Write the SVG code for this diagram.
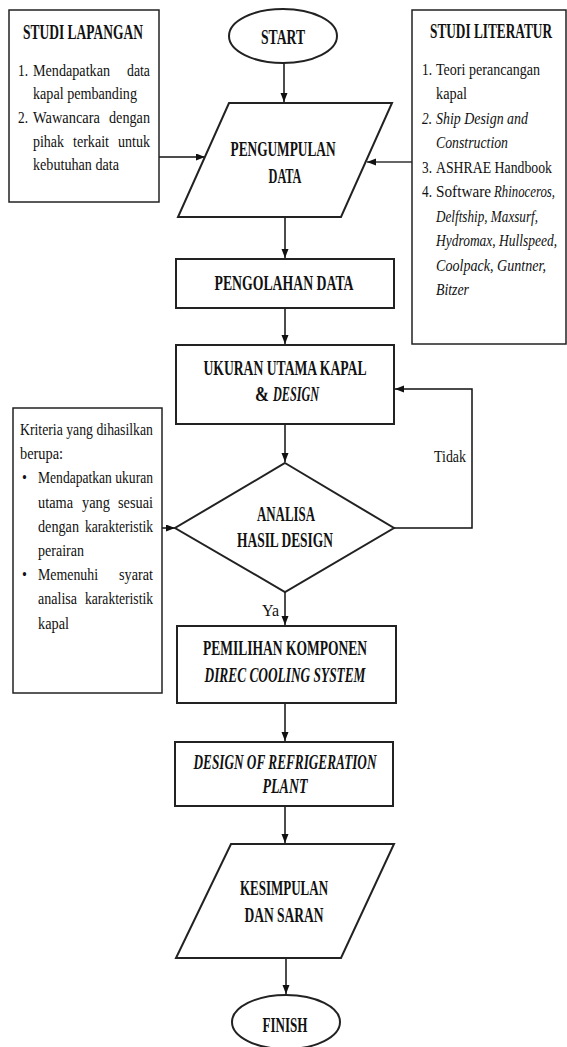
<svg xmlns="http://www.w3.org/2000/svg" width="567" height="1047" viewBox="0 0 567 1047">
<defs>
<marker id="ah" markerUnits="userSpaceOnUse" markerWidth="10" markerHeight="8" refX="9" refY="3.5" orient="auto">
<path d="M0,0 L9,3.5 L0,7 z" fill="#111"/>
</marker>
<style>
.shape{fill:#fff;stroke:#222;stroke-width:2}
.box{fill:#fff;stroke:#222;stroke-width:1.5}
.t{font-family:"Liberation Serif","Times New Roman",serif;font-weight:bold;font-size:22px;fill:#111;text-anchor:middle}
.h{font-family:"Liberation Serif","Times New Roman",serif;font-weight:bold;font-size:20px;fill:#111;text-anchor:middle}
.b{font-family:"Liberation Serif","Times New Roman",serif;font-size:17.5px;fill:#111}
.e{text-anchor:end}
.i{font-style:italic}
.c{fill:none;stroke:#111;stroke-width:1.5}
</style>
</defs>

<g id="connectors">
<path class="c" d="M284,63 V102" marker-end="url(#ah)"/>
<path class="c" d="M159,157 H205" marker-end="url(#ah)"/>
<path d="M412,162 H367" fill="none" stroke="#666" stroke-width="2.2" marker-end="url(#ah)"/>
<path class="c" d="M285,217 V258" marker-end="url(#ah)"/>
<path class="c" d="M285,308 V344" marker-end="url(#ah)"/>
<path class="c" d="M285,424 V462" marker-end="url(#ah)"/>
<path class="c" d="M394,528 H472 V389 H395" marker-end="url(#ah)"/>
<path class="c" d="M162,528 H175" marker-end="url(#ah)"/>
<path class="c" d="M285,592 V625" marker-end="url(#ah)"/>
<path class="c" d="M285,703 V741" marker-end="url(#ah)"/>
<path class="c" d="M285,806 V843" marker-end="url(#ah)"/>
<path class="c" d="M286,958 V994" marker-end="url(#ah)"/>
<text class="b" transform="matrix(.8 0 0 1 434 462)" textLength="40" lengthAdjust="spacingAndGlyphs">Tidak</text>
<text class="b" transform="matrix(.8 0 0 1 262 616)" textLength="21.25" lengthAdjust="spacingAndGlyphs">Ya</text>
</g>

<g id="start">
<ellipse class="shape" cx="283" cy="36" rx="54" ry="27"/>
<text class="t" transform="matrix(.6 0 0 1 283 44)" textLength="73.3" lengthAdjust="spacingAndGlyphs">START</text>
</g>

<g id="studi-lapangan">
<rect class="box" x="9" y="10" width="150" height="192"/>
<text class="h" transform="matrix(.65 0 0 1 83 39)" textLength="184.6" lengthAdjust="spacingAndGlyphs">STUDI LAPANGAN</text>
<text class="b" transform="matrix(.8 0 0 1 18 76)" textLength="12.5" lengthAdjust="spacingAndGlyphs">1.</text>
<text class="b" transform="matrix(.8 0 0 1 33 76)" textLength="96.25" lengthAdjust="spacingAndGlyphs">Mendapatkan</text>
<text class="b e" transform="matrix(.8 0 0 1 150 76)" textLength="28.75" lengthAdjust="spacingAndGlyphs">data</text>
<text class="b" transform="matrix(.8 0 0 1 33 99)" textLength="130" lengthAdjust="spacingAndGlyphs">kapal pembanding</text>
<text class="b" transform="matrix(.8 0 0 1 18 123)" textLength="12.5" lengthAdjust="spacingAndGlyphs">2.</text>
<text class="b" transform="matrix(.8 0 0 1 33 123)" textLength="83.75" lengthAdjust="spacingAndGlyphs">Wawancara</text>
<text class="b e" transform="matrix(.8 0 0 1 150 123)" textLength="51.25" lengthAdjust="spacingAndGlyphs">dengan</text>
<text class="b" transform="matrix(.8 0 0 1 33 147)" textLength="38.75" lengthAdjust="spacingAndGlyphs">pihak</text>
<text class="b" transform="matrix(.8 0 0 1 73 147)" textLength="45" lengthAdjust="spacingAndGlyphs">terkait</text>
<text class="b e" transform="matrix(.8 0 0 1 150 147)" textLength="40" lengthAdjust="spacingAndGlyphs">untuk</text>
<text class="b" transform="matrix(.8 0 0 1 33 170)" textLength="107.5" lengthAdjust="spacingAndGlyphs">kebutuhan data</text>
</g>

<g id="studi-literatur">
<rect class="box" x="412" y="10" width="154" height="334"/>
<text class="h" transform="matrix(.65 0 0 1 491 38)" textLength="187.7" lengthAdjust="spacingAndGlyphs">STUDI LITERATUR</text>
<text class="b" transform="matrix(.8 0 0 1 422 75)" textLength="12.5" lengthAdjust="spacingAndGlyphs">1.</text>
<text class="b" transform="matrix(.8 0 0 1 436 75)" textLength="130" lengthAdjust="spacingAndGlyphs">Teori perancangan</text>
<text class="b" transform="matrix(.8 0 0 1 436 99)" textLength="38.75" lengthAdjust="spacingAndGlyphs">kapal</text>
<text class="b i" transform="matrix(.8 0 0 1 422 124)" textLength="12.5" lengthAdjust="spacingAndGlyphs">2.</text>
<text class="b i" transform="matrix(.8 0 0 1 436 124)" textLength="115" lengthAdjust="spacingAndGlyphs">Ship Design and</text>
<text class="b i" transform="matrix(.8 0 0 1 436 148)" textLength="90" lengthAdjust="spacingAndGlyphs">Construction</text>
<text class="b" transform="matrix(.8 0 0 1 422 173)" textLength="12.5" lengthAdjust="spacingAndGlyphs">3.</text>
<text class="b" transform="matrix(.8 0 0 1 436 173)" textLength="145" lengthAdjust="spacingAndGlyphs">ASHRAE Handbook</text>
<text class="b" transform="matrix(.8 0 0 1 422 197)" textLength="12.5" lengthAdjust="spacingAndGlyphs">4.</text>
<text class="b" transform="matrix(.8 0 0 1 436 197)" textLength="68.75" lengthAdjust="spacingAndGlyphs">Software</text>
<text class="b i e" transform="matrix(.8 0 0 1 555 197)" textLength="76.25" lengthAdjust="spacingAndGlyphs">Rhinoceros,</text>
<text class="b i" transform="matrix(.8 0 0 1 436 222)" textLength="127.5" lengthAdjust="spacingAndGlyphs">Delftship, Maxsurf,</text>
<text class="b i" transform="matrix(.8 0 0 1 436 246)" textLength="151.25" lengthAdjust="spacingAndGlyphs">Hydromax, Hullspeed,</text>
<text class="b i" transform="matrix(.8 0 0 1 436 271)" textLength="137.5" lengthAdjust="spacingAndGlyphs">Coolpack, Guntner,</text>
<text class="b i" transform="matrix(.8 0 0 1 436 295)" textLength="41.25" lengthAdjust="spacingAndGlyphs">Bitzer</text>
</g>

<g id="pengumpulan-data">
<polygon class="shape" points="229,103 392,103 341,217 178,217"/>
<text class="t" transform="matrix(.6 0 0 1 283 156)" textLength="175" lengthAdjust="spacingAndGlyphs">PENGUMPULAN</text>
<text class="t" transform="matrix(.6 0 0 1 285 183)" textLength="55" lengthAdjust="spacingAndGlyphs">DATA</text>
</g>

<g id="pengolahan-data">
<rect class="shape" x="176" y="259" width="218" height="49"/>
<text class="t" transform="matrix(.6 0 0 1 284 290)" textLength="231.7" lengthAdjust="spacingAndGlyphs">PENGOLAHAN DATA</text>
</g>

<g id="ukuran-utama">
<rect class="shape" x="176" y="345" width="218" height="79"/>
<text class="t" transform="matrix(.6 0 0 1 285 375)" textLength="271.7" lengthAdjust="spacingAndGlyphs">UKURAN UTAMA KAPAL</text>
<text class="t" transform="matrix(.6 0 0 1 262 401)" textLength="23.3" lengthAdjust="spacingAndGlyphs">&amp;</text>
<text class="t i" transform="matrix(.6 0 0 1 296 401)" textLength="76.7" lengthAdjust="spacingAndGlyphs">DESIGN</text>
</g>

<g id="analisa">
<polygon class="shape" points="285,463 394,528 285,592 175,528"/>
<text class="t" transform="matrix(.6 0 0 1 286 521)" textLength="96.7" lengthAdjust="spacingAndGlyphs">ANALISA</text>
<text class="t" transform="matrix(.6 0 0 1 285 547)" textLength="160" lengthAdjust="spacingAndGlyphs">HASIL DESIGN</text>
</g>

<g id="kriteria">
<rect class="box" x="13" y="408" width="149" height="285"/>
<text class="b" transform="matrix(.8 0 0 1 20 435)" textLength="166.25" lengthAdjust="spacingAndGlyphs">Kriteria yang dihasilkan</text>
<text class="b" transform="matrix(.8 0 0 1 20 459)" textLength="53.75" lengthAdjust="spacingAndGlyphs">berupa:</text>
<text class="b" transform="matrix(.8 0 0 1 22 483)">•</text>
<text class="b" transform="matrix(.8 0 0 1 38 483)" textLength="143.75" lengthAdjust="spacingAndGlyphs">Mendapatkan ukuran</text>
<text class="b" transform="matrix(.8 0 0 1 38 508)" textLength="43.75" lengthAdjust="spacingAndGlyphs">utama</text>
<text class="b" transform="matrix(.8 0 0 1 82 508)" textLength="35" lengthAdjust="spacingAndGlyphs">yang</text>
<text class="b e" transform="matrix(.8 0 0 1 153 508)" textLength="43.75" lengthAdjust="spacingAndGlyphs">sesuai</text>
<text class="b" transform="matrix(.8 0 0 1 38 532)" textLength="51.25" lengthAdjust="spacingAndGlyphs">dengan</text>
<text class="b e" transform="matrix(.8 0 0 1 153 532)" textLength="85" lengthAdjust="spacingAndGlyphs">karakteristik</text>
<text class="b" transform="matrix(.8 0 0 1 38 556)" textLength="57.5" lengthAdjust="spacingAndGlyphs">perairan</text>
<text class="b" transform="matrix(.8 0 0 1 22 580)">•</text>
<text class="b" transform="matrix(.8 0 0 1 38 580)" textLength="75" lengthAdjust="spacingAndGlyphs">Memenuhi</text>
<text class="b e" transform="matrix(.8 0 0 1 153 580)" textLength="42.5" lengthAdjust="spacingAndGlyphs">syarat</text>
<text class="b" transform="matrix(.8 0 0 1 38 604)" textLength="48.75" lengthAdjust="spacingAndGlyphs">analisa</text>
<text class="b e" transform="matrix(.8 0 0 1 153 604)" textLength="85" lengthAdjust="spacingAndGlyphs">karakteristik</text>
<text class="b" transform="matrix(.8 0 0 1 38 629)" textLength="38.75" lengthAdjust="spacingAndGlyphs">kapal</text>
</g>

<g id="pemilihan-komponen">
<rect class="shape" x="177" y="626" width="219" height="77"/>
<text class="t" transform="matrix(.6 0 0 1 285 655)" textLength="273.3" lengthAdjust="spacingAndGlyphs">PEMILIHAN KOMPONEN</text>
<text class="t i" transform="matrix(.6 0 0 1 285 682)" textLength="268.3" lengthAdjust="spacingAndGlyphs">DIREC COOLING SYSTEM</text>
</g>

<g id="design-refrigeration">
<rect class="shape" x="175" y="742" width="218" height="64"/>
<text class="t i" transform="matrix(.6 0 0 1 285 769)" textLength="305" lengthAdjust="spacingAndGlyphs">DESIGN OF REFRIGERATION</text>
<text class="t i" transform="matrix(.6 0 0 1 285 793)" textLength="75" lengthAdjust="spacingAndGlyphs">PLANT</text>
</g>

<g id="kesimpulan">
<polygon class="shape" points="231,844 394,844 341,958 176,958"/>
<text class="t" transform="matrix(.6 0 0 1 284 895)" textLength="146.7" lengthAdjust="spacingAndGlyphs">KESIMPULAN</text>
<text class="t" transform="matrix(.6 0 0 1 284 922)" textLength="131.7" lengthAdjust="spacingAndGlyphs">DAN SARAN</text>
</g>

<g id="finish">
<ellipse class="shape" cx="286" cy="1022" rx="54" ry="27"/>
<text class="t" transform="matrix(.6 0 0 1 285 1032)" textLength="75" lengthAdjust="spacingAndGlyphs">FINISH</text>
</g>
</svg>
